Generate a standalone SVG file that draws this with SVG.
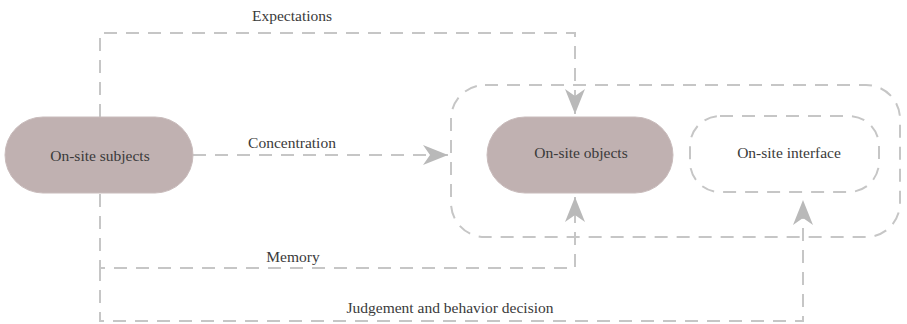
<svg xmlns="http://www.w3.org/2000/svg" width="907" height="324" viewBox="0 0 907 324">
  <style>
    .bg { fill: #ffffff; }
    .pill { fill: #c0b1b1; stroke: #c9bcbc; stroke-width: 1; }
    .frame { fill: none; stroke: #c6c6c6; stroke-width: 2; stroke-dasharray: 13 9; }
    .link { fill: none; stroke: #c6c6c6; stroke-width: 2; stroke-dasharray: 13 9; }
    .label { font-family: "Liberation Serif", "DejaVu Serif", serif; font-size: 15.5px; fill: #3a3a3a; text-anchor: middle; dominant-baseline: central; }
  </style>
  <defs>
    <marker id="arrow" markerUnits="userSpaceOnUse" markerWidth="26" markerHeight="22" viewBox="0 0 26 22" refX="25" refY="11" orient="auto">
      <path d="M0,1 L25,11 L0,21 L7,11 Z" fill="#b9b9b9"/>
    </marker>
  </defs>
  <rect class="bg" x="0" y="0" width="907" height="324"/>

  <!-- connectors -->
  <g id="connectors">
    <path id="expectations" class="link" d="M100,117 V33 H575 V114" marker-end="url(#arrow)"/>
    <path id="concentration" class="link" d="M193,155 H448" marker-end="url(#arrow)"/>
    <path id="memory" class="link" d="M100,194 V268 H575 V197" marker-end="url(#arrow)"/>
    <path id="judgement" class="link" d="M100,268 V321 H803 V200" marker-end="url(#arrow)"/>
    <text class="label" x="292" y="15">Expectations</text>
    <text class="label" x="292" y="142">Concentration</text>
    <text class="label" x="293" y="256">Memory</text>
    <text class="label" x="450" y="307">Judgement and behavior decision</text>
  </g>

  <!-- object side container -->
  <g id="object-area">
    <rect class="frame" x="451" y="85" width="449" height="152" rx="34" ry="34"/>
  </g>

  <g id="subjects">
    <rect class="pill" x="5" y="117" width="188" height="76" rx="38" ry="38"/>
    <text class="label" x="100" y="155">On-site subjects</text>
  </g>

  <g id="objects">
    <rect class="pill" x="487" y="117" width="186" height="76" rx="38" ry="38"/>
    <text class="label" x="581" y="152">On-site objects</text>
  </g>

  <g id="interface">
    <rect class="frame" x="690" y="116" width="189" height="76" rx="30" ry="30"/>
    <text class="label" x="789" y="152">On-site interface</text>
  </g>
</svg>
